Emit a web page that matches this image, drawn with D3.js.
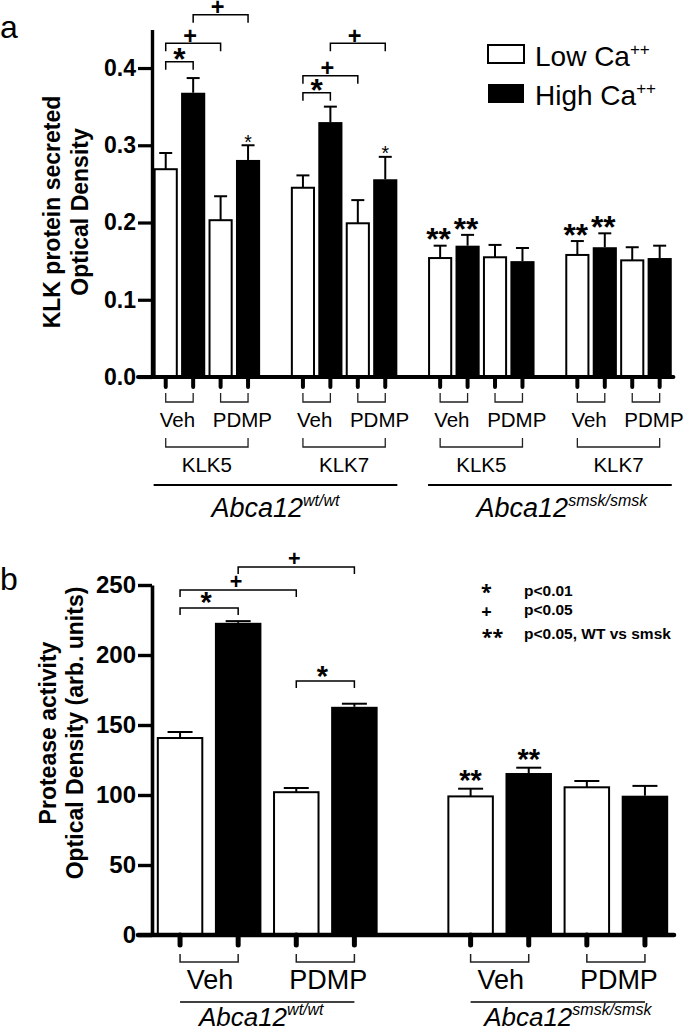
<!DOCTYPE html>
<html><head><meta charset="utf-8">
<script src="https://cdn.jsdelivr.net/npm/d3@7"></script>
<style>body{margin:0;background:#fff}</style>
</head><body><svg id="c" width="694" height="1032"></svg>
<script>
// ---------------- DATA ----------------
const conditions = ["Low Ca", "High Ca"];
const treatments = ["Veh", "PDMP"];
const klkProteins = ["KLK5", "KLK7", "KLK5", "KLK7"];
const genotypeSup = ["wt/wt", "smsk/smsk"];
// pair order: wt-KLK5-Veh, wt-KLK5-PDMP, wt-KLK7-Veh, wt-KLK7-PDMP,
//             smsk-KLK5-Veh, smsk-KLK5-PDMP, smsk-KLK7-Veh, smsk-KLK7-PDMP
const klkLowMean  = [0.269, 0.203, 0.245, 0.199, 0.154, 0.155, 0.158, 0.151];
const klkLowSem   = [0.021, 0.031, 0.016, 0.030, 0.016, 0.016, 0.018, 0.017];
const klkHighMean = [0.368, 0.281, 0.330, 0.256, 0.170, 0.150, 0.168, 0.154];
const klkHighSem  = [0.019, 0.019, 0.020, 0.029, 0.014, 0.017, 0.018, 0.016];
const klkTicks = [0.0, 0.1, 0.2, 0.3, 0.4];
// bar index = pair*2 + condition
const klkBrackets = [
  {a: 0, b: 1, level: 0.408, sym: "*"},
  {a: 0, b: 2, level: 0.432, sym: "+"},
  {a: 1, b: 3, level: 0.469, sym: "+"},
  {a: 4, b: 5, level: 0.368, sym: "*"},
  {a: 4, b: 6, level: 0.390, sym: "+"},
  {a: 5, b: 7, level: 0.432, sym: "+"}
];
const klkMarks = [
  {bar: 3, sym: "*", small: true}, {bar: 7, sym: "*", small: true},
  {bar: 8, sym: "**"}, {bar: 9, sym: "**"}, {bar: 12, sym: "**"}, {bar: 13, sym: "**"}
];

// pair order: wt-Veh, wt-PDMP, smsk-Veh, smsk-PDMP
const protLowMean  = [140.7, 102.0, 99.0, 105.5];
const protLowSem   = [4.3, 3.0, 5.5, 4.5];
const protHighMean = [223.0, 163.0, 115.7, 99.5];
const protHighSem  = [1.2, 2.2, 3.8, 7.0];
const protTicks = [0, 50, 100, 150, 200, 250];
const protBrackets = [
  {a: 0, b: 1, level: 233.6, sym: "*"},
  {a: 0, b: 2, level: 246.4, sym: "+"},
  {a: 1, b: 3, level: 262.9, sym: "+"},
  {a: 2, b: 3, level: 181.4, sym: "*"}
];
const protMarks = [{bar: 4, sym: "**"}, {bar: 5, sym: "**"}];
const pLegendSyms = ["*", "+", "**"];
const pLegendText = ["p<0.01", "p<0.05", "p<0.05, WT vs smsk"];

// ---------------- HELPERS ----------------
const svg = d3.select("#c");
const SANS = "'Liberation Sans', Arial, sans-serif";
const OPEN = "'Open Sans', sans-serif";
const ctx = document.createElement("canvas").getContext("2d");
function inkPos(str, cx, cy, h, weight, family) {
  ctx.font = `${weight} 100px ${family}`;
  const m = ctx.measureText(str);
  const inkH = m.actualBoundingBoxAscent + m.actualBoundingBoxDescent;
  const k = h / inkH;
  const left = m.actualBoundingBoxLeft * k, right = m.actualBoundingBoxRight * k;
  const asc = m.actualBoundingBoxAscent * k, desc = m.actualBoundingBoxDescent * k;
  return {x: cx - (right - left) / 2, y: cy + (asc - desc) / 2, size: 100 * k};
}
function inkText(g, str, cx, cy, h, weight, family) {
  const p = inkPos(str, cx, cy, h, weight, family);
  return g.append("text").attr("x", p.x).attr("y", p.y)
    .attr("font-size", p.size).attr("font-weight", weight)
    .attr("font-family", family).attr("fill", "#000").text(str);
}
function flatBars(lowM, lowS, highM, highS) {
  const out = [];
  lowM.forEach((d, i) => {
    out.push({pair: i, cond: 0, mean: lowM[i], sem: lowS[i]});
    out.push({pair: i, cond: 1, mean: highM[i], sem: highS[i]});
  });
  return out;
}

// ================ PANEL A ================
(function () {
  const g = svg.append("g");
  const bars = flatBars(klkLowMean, klkLowSem, klkHighMean, klkHighSem);
  const slotOf = d => Math.floor(d.pair / 2) * 5 + (d.pair % 2) * 2 + d.cond;
  const x = d3.scaleBand().domain(d3.range(19)).range([152, 673.4]).paddingInner(0.12).paddingOuter(0.06);
  const y = d3.scaleLinear().domain([0, 0.45]).range([377, 29.4]);
  const cx = d => x(slotOf(d)) + x.bandwidth() / 2;
  const y0 = y(0);

  g.selectAll("rect.bar").data(bars).join("rect")
    .attr("x", d => x(slotOf(d)) + (d.cond ? 0 : 1)).attr("width", d => x.bandwidth() - (d.cond ? 0 : 2))
    .attr("y", d => y(d.mean)).attr("height", d => y0 - y(d.mean))
    .attr("fill", d => d.cond ? "#000" : "#fff").attr("stroke", "#000")
    .attr("stroke-width", d => d.cond ? 0 : 2);
  g.selectAll("line.err").data(bars).join("line")
    .attr("x1", cx).attr("x2", cx).attr("y1", d => y(d.mean)).attr("y2", d => y(d.mean + d.sem))
    .attr("stroke", "#000").attr("stroke-width", 2);
  g.selectAll("line.cap").data(bars).join("line")
    .attr("x1", d => cx(d) - 6.5).attr("x2", d => cx(d) + 6.5)
    .attr("y1", d => y(d.mean + d.sem)).attr("y2", d => y(d.mean + d.sem))
    .attr("stroke", "#000").attr("stroke-width", 2);

  const ax = g.append("g").attr("transform", "translate(152,0)")
    .call(d3.axisLeft(y).tickValues(klkTicks).tickFormat(d3.format(".1f")).tickSize(14).tickSizeOuter(0).tickPadding(2));
  ax.select(".domain").attr("stroke-width", 3.4);
  ax.selectAll(".tick line").attr("stroke-width", 3.2);
  ax.selectAll(".tick text").attr("font-family", SANS).attr("font-weight", "bold").attr("font-size", 23).attr("fill", "#000");

  g.append("line").attr("x1", 138).attr("x2", x.range()[1]).attr("y1", y0).attr("y2", y0)
    .attr("stroke", "#000").attr("stroke-width", 4).attr("stroke-linecap", "round");
  g.selectAll("line.xt").data(bars).join("line")
    .attr("x1", cx).attr("x2", cx).attr("y1", y0).attr("y2", y0 + 10)
    .attr("stroke", "#000").attr("stroke-width", 4).attr("stroke-linecap", "round");

  const pairs = d3.range(8);
  const pc = (p, c) => cx({pair: p, cond: c});
  g.selectAll("path.tb").data(pairs).join("path")
    .attr("d", p => `M${pc(p,0)},393V402H${pc(p,1)}V393`)
    .attr("fill", "none").attr("stroke", "#222").attr("stroke-width", 1.3);
  g.selectAll("text.tl").data(pairs).join("text")
    .attr("x", p => (pc(p,0) + pc(p,1)) / 2 + (p % 2 ? 8 : -2)).attr("y", 427)
    .attr("text-anchor", "middle").attr("font-family", SANS).attr("font-size", 20.5)
    .text(p => treatments[p % 2]);
  const groups = d3.range(4);
  g.selectAll("path.pb").data(groups).join("path")
    .attr("d", q => `M${pc(q*2,0)},438V447H${pc(q*2+1,1)}V438`)
    .attr("fill", "none").attr("stroke", "#222").attr("stroke-width", 1.3);
  g.selectAll("text.pl").data(groups).join("text")
    .attr("x", q => (pc(q*2,0) + pc(q*2+1,1)) / 2).attr("y", 472)
    .attr("text-anchor", "middle").attr("font-family", SANS).attr("font-size", 20.5)
    .text(q => klkProteins[q]);
  [0, 1].forEach(gi => {
    const xa = x(gi * 10), xb = x(gi * 10 + 8) + x.bandwidth();
    g.append("line").attr("x1", xa).attr("x2", xb).attr("y1", 485).attr("y2", 485)
      .attr("stroke", "#000").attr("stroke-width", 2);
    const t = g.append("text").attr("x", (xa + xb) / 2 + (gi ? 12 : 0)).attr("y", 517)
      .attr("text-anchor", "middle").attr("font-family", SANS).attr("font-size", 27).attr("font-style", "italic");
    t.append("tspan").text("Abca12");
    t.append("tspan").attr("font-size", 16).attr("dy", -11).text(genotypeSup[gi]);
  });

  const bc = k => cx(bars[k]);
  klkBrackets.forEach(b => {
    const yy = y(b.level);
    g.append("path").attr("d", `M${bc(b.a)},${yy + 8}V${yy}H${bc(b.b)}V${yy + 8}`)
      .attr("fill", "none").attr("stroke", "#000").attr("stroke-width", 1.5);
    const mid = (bc(b.a) + bc(b.b)) / 2;
    if (b.sym === "*") inkText(g, "*", mid, yy - 8, 12, "bold", SANS);
    else inkText(g, "+", mid - 3, yy - 7.5, 12, "bold", SANS);
  });
  klkMarks.forEach(mk => {
    const d = bars[mk.bar];
    const top = y(d.mean + d.sem);
    if (mk.small) inkText(g, "*", cx(d), top - 6.5, 7, "normal", SANS);
    else inkText(g, "**", cx(d) - 1.5, top - 11, 12, "bold", SANS);
  });

  conditions.forEach((c, i) => {
    g.append("rect").attr("x", 488).attr("y", 45 + i * 39).attr("width", 36).attr("height", i ? 19 : 18)
      .attr("fill", i ? "#000" : "#fff").attr("stroke", "#000").attr("stroke-width", i ? 0 : 2);
    const t = g.append("text").attr("x", 535).attr("y", 66 + i * 39)
      .attr("font-family", SANS).attr("font-size", 28);
    t.append("tspan").text(c);
    t.append("tspan").attr("font-size", 17).attr("dy", -11).text("++");
  });

  const title = g.append("g").attr("transform", "translate(0,212) rotate(-90)");
  title.append("text").attr("x", 0).attr("y", 60).attr("text-anchor", "middle")
    .attr("font-family", SANS).attr("font-weight", "bold").attr("font-size", 23).text("KLK protein secreted");
  title.append("text").attr("x", 0).attr("y", 88).attr("text-anchor", "middle")
    .attr("font-family", SANS).attr("font-weight", "bold").attr("font-size", 23).text("Optical Density");

  g.append("text").attr("x", 0).attr("y", 38).attr("font-family", SANS).attr("font-size", 32).text("a");
})();

// ================ PANEL B ================
(function () {
  const g = svg.append("g");
  const bars = flatBars(protLowMean, protLowSem, protHighMean, protHighSem);
  const slotOf = d => Math.floor(d.pair / 2) * 5 + (d.pair % 2) * 2 + d.cond;
  const x = d3.scaleBand().domain(d3.range(9)).range([151, 674]).paddingInner(0.2).paddingOuter(0.1);
  const y = d3.scaleLinear().domain([0, 250]).range([935, 585]);
  const cx = d => x(slotOf(d)) + x.bandwidth() / 2;
  const y0 = y(0);

  g.selectAll("rect.bar").data(bars).join("rect")
    .attr("x", d => x(slotOf(d)) + (d.cond ? 0 : 1)).attr("width", d => x.bandwidth() - (d.cond ? 0 : 2))
    .attr("y", d => y(d.mean)).attr("height", d => y0 - y(d.mean))
    .attr("fill", d => d.cond ? "#000" : "#fff").attr("stroke", "#000")
    .attr("stroke-width", d => d.cond ? 0 : 2);
  g.selectAll("line.err").data(bars).join("line")
    .attr("x1", cx).attr("x2", cx).attr("y1", d => y(d.mean)).attr("y2", d => y(d.mean + d.sem))
    .attr("stroke", "#000").attr("stroke-width", 2);
  g.selectAll("line.cap").data(bars).join("line")
    .attr("x1", d => cx(d) - 12.5).attr("x2", d => cx(d) + 12.5)
    .attr("y1", d => y(d.mean + d.sem)).attr("y2", d => y(d.mean + d.sem))
    .attr("stroke", "#000").attr("stroke-width", 2);

  const ax = g.append("g").attr("transform", "translate(152,0)")
    .call(d3.axisLeft(y).tickValues(protTicks).tickSize(14).tickSizeOuter(0).tickPadding(2));
  ax.select(".domain").attr("stroke-width", 3.6);
  ax.selectAll(".tick line").attr("stroke-width", 3.4);
  ax.selectAll(".tick text").attr("font-family", SANS).attr("font-weight", "bold").attr("font-size", 24).attr("fill", "#000");

  g.append("line").attr("x1", 138).attr("x2", x.range()[1]).attr("y1", y0).attr("y2", y0)
    .attr("stroke", "#000").attr("stroke-width", 4.5).attr("stroke-linecap", "round");
  g.selectAll("line.xt").data(bars).join("line")
    .attr("x1", cx).attr("x2", cx).attr("y1", y0).attr("y2", y0 + 10)
    .attr("stroke", "#000").attr("stroke-width", 5).attr("stroke-linecap", "round");

  const pairs = d3.range(4);
  const pc = (p, c) => cx({pair: p, cond: c});
  g.selectAll("path.tb").data(pairs).join("path")
    .attr("d", p => `M${pc(p,0)},954V962H${pc(p,1)}V954`)
    .attr("fill", "none").attr("stroke", "#222").attr("stroke-width", 1.5);
  g.selectAll("text.tl").data(pairs).join("text")
    .attr("x", p => (pc(p,0) + pc(p,1)) / 2 + (p % 2 ? 3 : 1)).attr("y", 989)
    .attr("text-anchor", "middle").attr("font-family", SANS).attr("font-size", 27)
    .text(p => treatments[p % 2]);
  [0, 1].forEach(gi => {
    const xa = pc(gi * 2, 0), xb = pc(gi * 2 + 1, 1);
    g.append("line").attr("x1", xa).attr("x2", xb).attr("y1", 1002).attr("y2", 1002)
      .attr("stroke", "#000").attr("stroke-width", 1.5);
    const t = g.append("text").attr("x", (xa + xb) / 2 + (gi ? 10 : -6)).attr("y", 1026)
      .attr("text-anchor", "middle").attr("font-family", SANS).attr("font-size", 26).attr("font-style", "italic");
    t.append("tspan").text("Abca12");
    t.append("tspan").attr("font-size", 16).attr("dy", -11).text(genotypeSup[gi]);
  });

  const bc = k => cx(bars[k]);
  protBrackets.forEach(b => {
    const yy = y(b.level);
    g.append("path").attr("d", `M${bc(b.a)},${yy + 7}V${yy}H${bc(b.b)}V${yy + 7}`)
      .attr("fill", "none").attr("stroke", "#000").attr("stroke-width", 1.5);
    const mid = (bc(b.a) + bc(b.b)) / 2;
    if (b.sym === "*") inkText(g, "*", mid - 3, yy - 10, 11, "bold", SANS);
    else inkText(g, "+", mid - 2, yy - 8.5, 11, "bold", SANS);
  });
  protMarks.forEach(mk => {
    const d = bars[mk.bar];
    const top = y(d.mean + d.sem);
    inkText(g, "**", cx(d), top - 13, 11, "bold", SANS);
  });

  // p-value legend
  const ly = [589, 611.5, 634], lb = [596, 615, 639];
  pLegendSyms.forEach((s, i) => {
    inkText(g, s, i === 2 ? 492.5 : 486.5, ly[i], i === 1 ? 9 : 9.5, "bold", OPEN);
    g.append("text").attr("x", 524).attr("y", lb[i]).attr("font-family", SANS)
      .attr("font-weight", "bold").attr("font-size", 15.5).attr("fill", "#000").text(pLegendText[i]);
  });

  const title = g.append("g").attr("transform", "translate(0,733) rotate(-90)");
  title.append("text").attr("x", 0).attr("y", 56).attr("text-anchor", "middle")
    .attr("font-family", SANS).attr("font-weight", "bold").attr("font-size", 23).text("Protease activity");
  title.append("text").attr("x", 0).attr("y", 83).attr("text-anchor", "middle")
    .attr("font-family", SANS).attr("font-weight", "bold").attr("font-size", 23).text("Optical Density (arb. units)");

  g.append("text").attr("x", 0).attr("y", 590).attr("font-family", SANS).attr("font-size", 32).text("b");
})();
</script></body></html>
